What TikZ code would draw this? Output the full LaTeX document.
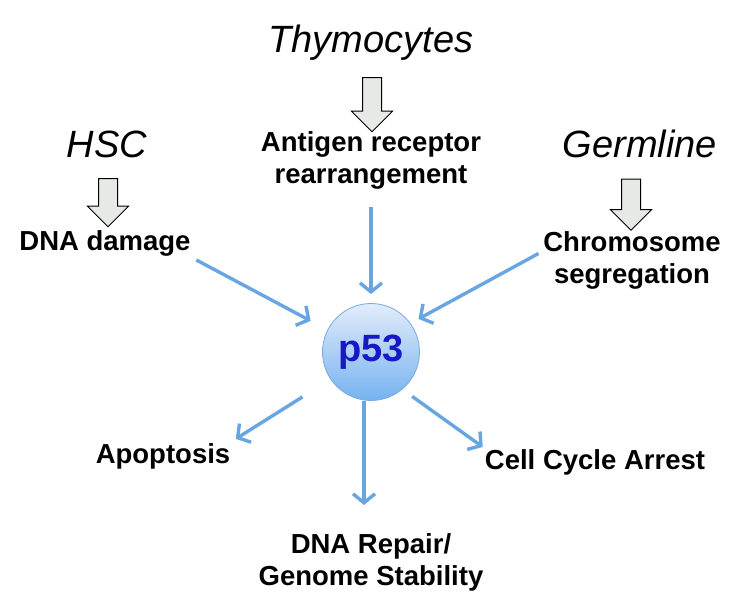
\documentclass[tikz,border=0pt]{standalone}
\usepackage{fontspec}
\setmainfont{Liberation Sans}
\usetikzlibrary{arrows.meta,positioning,calc,shapes.arrows}
\definecolor{ink}{RGB}{0,0,0}
\definecolor{flow}{RGB}{104,166,226}
\definecolor{blockfill}{RGB}{230,233,230}
\definecolor{hubtext}{RGB}{24,24,196}
\definecolor{hubtop}{RGB}{226,236,250}
\definecolor{hubbot}{RGB}{118,178,240}
\definecolor{hubedge}{RGB}{120,170,225}
\tikzset{
  cell/.style={font=\fontsize{38}{44}\selectfont\itshape,inner sep=0pt},
  evt/.style={font=\fontsize{27.5}{32}\selectfont\bfseries,align=center,inner sep=2pt},
  blk/.style={single arrow,draw=ink,fill=blockfill,line width=1pt,rotate=-90,
    inner xsep=0pt,inner ysep=9pt,minimum width=40pt,single arrow head extend=11pt,
    single arrow tip angle=90},
  hub/.style={circle,draw=hubedge,line width=0.8pt,top color=hubtop,bottom color=hubbot,
    minimum size=97pt,inner sep=0pt,text=hubtext,font=\fontsize{38}{44}\selectfont\bfseries},
  flo/.style={-{Straight Barb[length=9pt,width=22pt]},line width=3.4pt,flow},
}

\begin{document}
\begin{tikzpicture}[x=1pt,y=-1pt]
\useasboundingbox (0,0) rectangle (748,612);
% cell types and their stress
\node[cell,anchor=base] (thy) at (371,53) {Thymocytes};
\node[cell,anchor=base] (hsc) at (107,158) {HSC};
\node[cell,anchor=base] (germ) at (640,158) {Germline};
\node[blk,minimum height=54pt] (tdown) at (372,100) {};
\node[blk,minimum height=48pt] (hdown) at (108,198) {};
\node[blk,minimum height=51pt] (gdown) at (631,200) {};
\node[evt] (ant) at (371,160) {Antigen receptor\\rearrangement};
\node[evt] (dna) at (105,243) {DNA damage};
\node[evt] (chr) at (632,260) {Chromosome\\segregation};
% hub and outcomes
\node[hub] (p53) at (371,352) {p53};
\node[evt] (apo) at (163,456) {Apoptosis};
\node[evt] (cca) at (595,462) {Cell Cycle Arrest};
\node[evt] (rep) at (371,562) {DNA Repair/\\Genome Stability};
\draw[flo,shorten <=4pt,shorten >=19pt] (dna.south east) -- (p53.153);
\draw[flo,shorten <=16pt,shorten >=9pt] (ant.south) -- (p53.north);
\draw[flo,shorten <=3pt,shorten >=9pt] (chr.175) -- (p53.36);
\draw[flo,shorten <=33pt,shorten >=4pt] (p53.214) -- (apo.north east);
\draw[flo,shorten >=26pt] ([xshift=-7pt]p53.south) -- ([xshift=-7pt]rep.north);
\draw[flo,shorten <=12pt] (p53.310) -- (cca.north west);
\end{tikzpicture}
\end{document}
